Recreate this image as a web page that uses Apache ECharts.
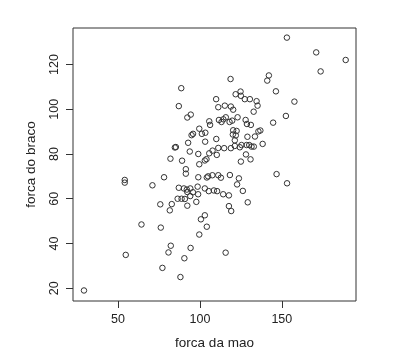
<!DOCTYPE html>
<html>
<head>
<meta charset="utf-8">
<script src="https://cdn.jsdelivr.net/npm/echarts@6/dist/echarts.min.js"></script>
<style>html,body{margin:0;padding:0;background:#fff}#c{width:409px;height:364px}</style>
</head>
<body>
<div id="c"></div>
<script>
const xTicks = [50, 100, 150];
const yTicks = [20, 40, 60, 80, 100, 120];
const forcaDaMao = [88.6,87.1,94.4,92.3,99.6,103.3,95.8,94.9,101.2,84.7,85.3,92.8,93.8,82.0,89.1,99.0,103.0,104.0,99.6,91.4,91.4,78.1,99.0,71.0,54.1,54.1,
87.1,90.2,92.0,94.1,98.6,92.3,95.7,94.1,
98.9,86.4,88.8,90.8,92.3,97.8,75.8,82.8,81.6,103.0,100.6,104.2,99.6,64.3,76.1,54.7,82.2,80.8,94.3,90.5,77.1,88.1,29.2,
103.2,105.7,107.7,111.2,104.2,105.0,107.6,111.2,112.8,103.0,105.4,108.5,110.5,110.0,110.3,109.9,111.2,105.7,106.2,111.6,113.2,114.3,115.8,118.1,119.7,123.0,127.9,128.7,131.1,115.2,118.9,120.3,118.7,121.8,124.8,125.0,127.4,130.5,134.6,135.2,132.8,142.1,141.1,146.4,157.7,152.5,144.7,153.1,171.0,189.0,173.7,120.3,122.4,120.1,121.9,121.3,129.0,133.6,135.7,136.9,138.3,114.8,118.9,121.3,124.4,125.4,128.5,130.1,131.5,132.9,128.1,130.9,125.0,118.3,123.8,122.7,146.8,153.2,126.2,114.2,117.7,129.2,117.7,119.1,115.7];
const forcaDoBraco = [109.4,101.4,97.6,96.3,91.3,89.5,89.0,88.4,89.0,82.9,83.1,85.0,81.1,77.9,77.0,80.0,77.1,77.7,75.4,73.2,71.2,69.6,69.6,66.0,68.4,67.2,
64.9,64.6,64.1,64.6,65.4,63.0,62.9,61.2,
62.0,60.0,60.0,59.9,56.9,58.6,57.5,57.6,54.8,52.6,50.8,47.5,44.0,48.5,47.1,34.9,39.0,36.0,38.0,33.4,29.1,25.0,19.0,
85.5,80.3,81.5,82.7,69.5,70.0,70.5,70.5,69.4,64.6,63.4,63.7,63.4,86.7,79.6,104.5,100.9,94.6,93.0,95.2,94.3,95.5,96.4,94.3,94.9,96.4,95.2,93.4,93.0,101.6,101.2,99.8,113.5,106.7,107.9,106.0,104.5,104.5,103.6,101.6,98.9,115.1,112.8,108.0,103.4,97.0,94.0,132.0,125.4,122.0,116.9,90.6,90.3,88.7,88.3,86.1,87.7,87.8,90.1,90.5,84.5,82.6,82.6,83.6,83.0,84.0,84.0,84.0,83.3,83.3,79.8,77.6,76.6,70.6,69.1,66.4,71.0,66.9,63.5,62.0,61.5,58.4,56.7,54.5,35.9];
const xName = 'forca da mao';
const yName = 'forca do braco';

const pts = forcaDaMao.map((v, i) => [v, forcaDoBraco[i]]);
const font = 'Liberation Sans, Arial, sans-serif';
const chart = echarts.init(document.getElementById('c'), null, {renderer: 'canvas'});
chart.setOption({
  animation: false,
  backgroundColor: '#fff',
  grid: {left: 73, top: 28, width: 283, height: 273, show: true, borderColor: '#333', borderWidth: 1, backgroundColor: 'transparent'},
  xAxis: {
    type: 'value', min: 22.5, max: 195.3,
    name: xName, nameLocation: 'middle', nameGap: 35,
    nameTextStyle: {fontFamily: font, fontSize: 13.5, color: '#222'},
    axisLine: {show: false},
    splitLine: {show: false},
    axisTick: {show: true, inside: false, length: 7, customValues: xTicks, lineStyle: {color: '#333'}},
    axisLabel: {customValues: xTicks, margin: 12, fontFamily: font, fontSize: 12.5, color: '#222'}
  },
  yAxis: {
    type: 'value', min: 14.3, max: 136.3,
    name: yName, nameLocation: 'middle', nameGap: 35,
    nameTextStyle: {fontFamily: font, fontSize: 13.5, color: '#222'},
    axisLine: {show: false},
    splitLine: {show: false},
    axisTick: {show: true, inside: false, length: 7, customValues: yTicks, lineStyle: {color: '#333'}},
    axisLabel: {customValues: yTicks, rotate: 90, margin: 12, fontFamily: font, fontSize: 12.5, color: '#222'}
  },
  series: [{
    type: 'scatter',
    data: pts,
    symbol: 'circle',
    symbolSize: 5.5,
    itemStyle: {color: 'rgba(255,255,255,0)', borderColor: '#333', borderWidth: 1, opacity: 1}
  }]
});
</script>
</body>
</html>
